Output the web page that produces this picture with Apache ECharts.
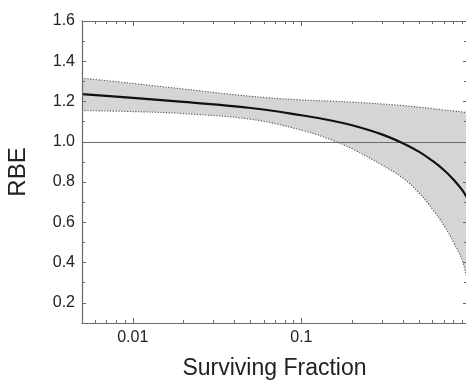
<!DOCTYPE html>
<html>
<head>
<meta charset="utf-8">
<script src="https://cdn.jsdelivr.net/npm/echarts@6/dist/echarts.min.js"></script>
<style>html,body{margin:0;padding:0;background:#fff}#c{width:466px;height:383px}</style>
</head>
<body>
<div id="c"></div>
<script>
// Surviving fraction (x, log scale)
const sf     = [0.005, 0.01, 0.02, 0.05, 0.1, 0.15, 0.2, 0.3, 0.4, 0.5, 0.6, 0.7, 0.8, 0.9, 0.96];
// central RBE curve
const rbe    = [1.237, 1.218, 1.198, 1.168, 1.132, 1.106, 1.082, 1.037, 0.993, 0.950, 0.905, 0.860, 0.812, 0.760, 0.722];
// upper and lower bounds of the confidence band
const upper  = [1.316, 1.290, 1.262, 1.226, 1.208, 1.202, 1.197, 1.188, 1.180, 1.172, 1.165, 1.158, 1.153, 1.148, 1.145];
const lower  = [1.155, 1.150, 1.140, 1.112, 1.058, 1.010, 0.965, 0.885, 0.820, 0.745, 0.665, 0.585, 0.500, 0.410, 0.320];
const refLine = 1.0;
// ticks
const xMajor = [0.01, 0.1];
const xMinor = [0.006, 0.007, 0.008, 0.009, 0.02, 0.03, 0.04, 0.05, 0.06, 0.07, 0.08, 0.09, 0.2, 0.3, 0.4, 0.5, 0.6, 0.7, 0.8, 0.9];
const yMajor = [0.2, 0.4, 0.6, 0.8, 1.0, 1.2, 1.4, 1.6];
const yMinor = [0.3, 0.5, 0.7, 0.9, 1.1, 1.3, 1.5];
const xMin = 0.005, xMax = 0.96, yMin = 0.1, yMax = 1.6;

const FONT = '"Liberation Sans", Arial, sans-serif';
const AX = '#6a6a6a';
const fmtY = v => Number(v).toFixed(1);

function xAx(pos, ticks, len, withLabel, line) {
  const a = {
    type: 'log', logBase: 10, position: pos, min: xMin, max: xMax, z: 10,
    axisLine: {show: line, lineStyle: {color: AX, width: 1.2}},
    axisTick: {show: true, inside: true, length: len, customValues: ticks, lineStyle: {color: AX, width: 1}},
    axisLabel: withLabel ? {show: true, customValues: ticks, formatter: v => (v < 0.05 ? '0.01' : '0.1'), fontSize: 16, color: '#222', fontFamily: FONT, margin: 7} : {show: false},
    splitLine: {show: false}, minorTick: {show: false}, minorSplitLine: {show: false}
  };
  if (withLabel) {
    a.name = 'Surviving Fraction';
    a.nameLocation = 'middle';
    a.nameGap = 34;
    a.nameTextStyle = {fontSize: 23, color: '#222', fontFamily: FONT};
  }
  return a;
}
function yAx(pos, ticks, len, withLabel, line) {
  const a = {
    type: 'value', position: pos, min: yMin, max: yMax, z: 10,
    axisLine: {show: line, lineStyle: {color: AX, width: 1.2}},
    axisTick: {show: true, inside: true, length: len, customValues: ticks, lineStyle: {color: AX, width: 1}},
    axisLabel: withLabel ? {show: true, customValues: ticks, formatter: fmtY, fontSize: 16, color: '#222', fontFamily: FONT, margin: 7} : {show: false},
    splitLine: {show: false}, minorTick: {show: false}, minorSplitLine: {show: false}
  };
  if (withLabel) {
    a.name = 'RBE';
    a.nameLocation = 'middle';
    a.nameRotate = 90;
    a.nameGap = 52;
    a.nameTextStyle = {fontSize: 24, color: '#222', fontFamily: '"Liberation Sans Narrow", "Liberation Sans", Arial, sans-serif'};
  }
  return a;
}

const pts = arr => sf.map((x, i) => [x, arr[i]]);
const dotted = {color: '#555', width: 1.1, type: [1.2, 1.6]};

const option = {
  animation: false,
  backgroundColor: '#fff',
  grid: {left: 82, top: 21, right: -1, bottom: 60, outerBoundsMode: 'none', containLabel: false},
  xAxis: [
    xAx('bottom', xMajor, 5, true, true),
    xAx('bottom', xMinor, 3, false, false),
    xAx('top', xMajor, 5, false, true),
    xAx('top', xMinor, 3, false, false)
  ],
  yAxis: [
    yAx('left', yMajor, 4, true, true),
    yAx('left', yMinor, 3, false, false),
    yAx('right', yMajor, 4, false, true),
    yAx('right', yMinor, 3, false, false)
  ],
  series: [
    {
      type: 'line', name: 'upper', data: pts(upper), smooth: 0.4,
      symbol: 'none', lineStyle: dotted,
      areaStyle: {color: '#d3d5d6', opacity: 1, origin: 'start'}, z: 2
    },
    {
      type: 'line', name: 'lower', data: pts(lower), smooth: 0.4,
      symbol: 'none', lineStyle: dotted,
      areaStyle: {color: '#ffffff', opacity: 1, origin: 'start'}, z: 3
    },
    {
      type: 'line', name: 'RBE', data: pts(rbe), smooth: 0.4, symbol: 'none',
      lineStyle: {color: '#111', width: 2.2}, z: 5,
      markLine: {
        silent: true, symbol: 'none', label: {show: false},
        lineStyle: {color: '#6a6a6a', width: 1.2, type: 'solid'},
        data: [{yAxis: refLine}], z: 4
      }
    }
  ]
};
const chart = echarts.init(document.getElementById('c'), null, {renderer: 'canvas'});
chart.setOption(option);
</script>
</body>
</html>
